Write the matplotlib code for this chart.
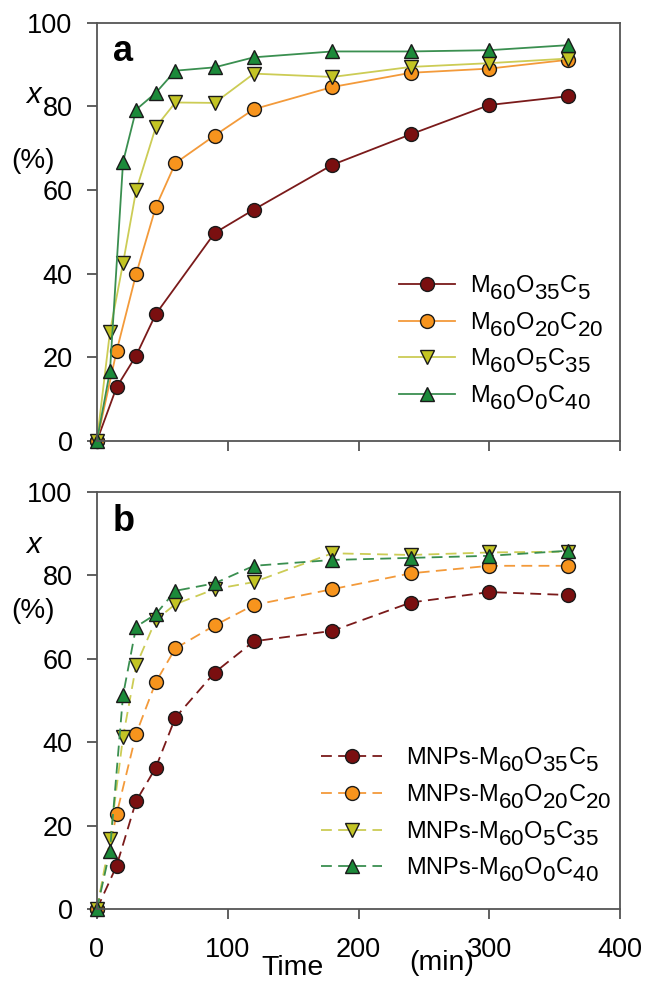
import numpy as np
import matplotlib
import matplotlib.pyplot as plt
import matplotlib._mathtext as mt

# subscripts in the legend labels are drawn nearly full size and set lower
mt.SHRINK_FACTOR = 0.95
mt.FontConstantsBase.sub1 = 0.6

plt.rcParams['font.family'] = ['Liberation Sans', 'DejaVu Sans']
plt.rcParams['mathtext.fontset'] = 'custom'
plt.rcParams['mathtext.rm'] = 'Liberation Sans'
plt.rcParams['mathtext.it'] = 'Liberation Sans:italic'

# conversion x (%) vs time (min)
t_a = [0, 15, 30, 45, 90, 120, 180, 240, 300, 360]
a_m35 = [0, 12.8, 20.4, 30.3, 49.7, 55.3, 66.0, 73.3, 80.3, 82.4]
t_a2 = [0, 15, 30, 45, 60, 90, 120, 180, 240, 300, 360]
a_m20 = [0, 21.4, 39.9, 55.9, 66.4, 73.0, 79.3, 84.6, 88.0, 89.0, 91.1]
t_a3 = [0, 10, 20, 30, 45, 60, 90, 120, 180, 240, 300, 360]
a_m5 = [0, 26.1, 42.5, 59.9, 75.0, 80.9, 80.8, 87.8, 87.0, 89.4, 90.3, 91.4]
a_m0 = [0, 16.7, 66.7, 79.2, 83.2, 88.5, 89.3, 91.7, 93.1, 93.1, 93.4, 94.6]

b_m35 = [0, 10.3, 25.9, 33.9, 45.9, 56.7, 64.2, 66.7, 73.5, 76.0, 75.3]
b_m20 = [0, 22.7, 42.0, 54.4, 62.5, 68.0, 72.9, 76.7, 80.5, 82.3, 82.3]
b_m5 = [0, 16.7, 41.3, 58.4, 69.3, 73.1, 76.7, 78.4, 85.3, 84.9, 85.5, 85.7]
b_m0 = [0, 14.0, 51.3, 67.7, 70.7, 76.3, 78.1, 82.3, 83.7, 84.2, 84.7, 85.9]

names = [r'M$_{60}$O$_{35}$C$_{5}$', r'M$_{60}$O$_{20}$C$_{20}$',
         r'M$_{60}$O$_{5}$C$_{35}$', r'M$_{60}$O$_{0}$C$_{40}$']
colors = ['#7a0f10', '#f7941d', '#c3c424', '#1c8a3a']
lcolors = ['#7a1a1a', '#f39a3a', '#cccc55', '#3a8f50']
markers = ['o', 'o', 'v', '^']

fig = plt.figure(figsize=(6.46, 9.82), dpi=100)
ax1 = fig.add_axes([0.150, 0.551, 0.810, 0.426])
ax2 = fig.add_axes([0.150, 0.0743, 0.810, 0.4247])

sets_a = [(t_a, a_m35), (t_a2, a_m20), (t_a3, a_m5), (t_a3, a_m0)]
sets_b = [(t_a2, b_m35), (t_a2, b_m20), (t_a3, b_m5), (t_a3, b_m0)]

for i, (t, y) in enumerate(sets_a):
    ax1.plot(t, y, color=lcolors[i], lw=1.3, marker=markers[i], ms=10,
             mfc=colors[i], mec='#1a1a1a', mew=1.0, label=names[i])
for i, (t, y) in enumerate(sets_b):
    ax2.plot(t, y, color=lcolors[i], lw=1.3, dashes=(6, 3.5), marker=markers[i], ms=10,
             mfc=colors[i], mec='#1a1a1a', mew=1.0, label='MNPs-' + names[i])

for ax in (ax1, ax2):
    ax.set_xlim(0, 400)
    ax.set_ylim(0, 100)
    ax.set_xticks([0, 100, 200, 300, 400])
    ax.set_yticks([0, 20, 40, 60, 80, 100])
    ax.tick_params(direction='out', length=7, width=1.2, color='#444444',
                   labelsize=19.5)
    ax.tick_params(axis='y', pad=10.5)
    ax.tick_params(axis='x', pad=13)
    for s in ax.spines.values():
        s.set_color('#555555')
        s.set_linewidth(1.3)
    for ln in ax.lines:
        ln.set_clip_on(False)

ax1.tick_params(axis='x', labelbottom=False)
ax1.set_xticks([100, 200, 300, 400])

ax1.legend(loc='lower right', bbox_to_anchor=(1.0, 0.03), frameon=False, fontsize=17,
           handlelength=2.35, handletextpad=0.65, labelspacing=0.33, borderaxespad=0.3)
ax2.legend(loc='lower right', bbox_to_anchor=(1.015, 0.02), frameon=False, fontsize=17,
           handlelength=2.6, handletextpad=1.0, labelspacing=0.33, borderaxespad=0.3)

ax1.text(0.03, 0.93, 'a', transform=ax1.transAxes, fontsize=26, fontweight='bold',
         ha='left', va='center')
ax2.text(0.03, 0.93, 'b', transform=ax2.transAxes, fontsize=26, fontweight='bold',
         ha='left', va='center')

for yx, yp in ((95, 161), (545, 611)):
    fig.text(33 / 646, 1 - yx / 982, 'x', fontsize=21, style='italic',
             ha='center', va='center')
    fig.text(33 / 646, 1 - yp / 982, '(%)', fontsize=20, ha='center', va='center')

fig.text(292 / 646, 1 - 968 / 982, 'Time', fontsize=20.5, ha='center', va='center')
fig.text(442 / 646, 1 - 963 / 982, '(min)', fontsize=20.5, ha='center', va='center')

fig.savefig('out.png', dpi=100)
